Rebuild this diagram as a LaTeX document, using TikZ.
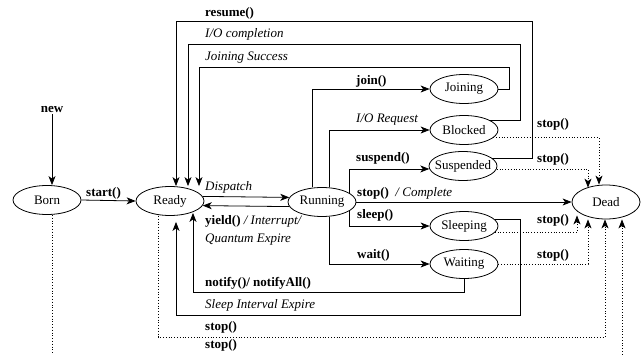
\documentclass[tikz,border=0pt]{standalone}
\usepackage{fontspec}
\setmainfont{Liberation Serif}
\usetikzlibrary{arrows.meta,shapes.geometric}

\begin{document}
\begin{tikzpicture}[x=1pt,y=-1pt,
		state/.style={draw,ellipse,line width=0.8pt,minimum width=68pt,minimum height=29pt,inner sep=0pt,font=\fontsize{13}{15}\selectfont},
		trans/.style={line width=0.8pt,-{Stealth[length=9pt,width=7pt,inset=2.5pt]}},
		stopline/.style={trans,dash pattern=on 0.8pt off 2pt},
		lbl/.style={anchor=base west,inner sep=0pt,font=\fontsize{13}{15}\selectfont}]
			\useasboundingbox (0,0) rectangle (642,354);
			\clip (0,0) rectangle (642,354);
			\node[state] (born) at (47,200) {Born};
			\node[state] (ready) at (170,201) {Ready};
			\node[state] (running) at (322,202) {Running};
			\node[state] (joining) at (464,89) {Joining};
			\node[state] (blocked) at (464,130) {Blocked};
			\node[state] (suspended) at (463,166) {\makebox[44pt]{Suspended}};
			\node[state] (sleeping) at (464,226) {Sleeping};
			\node[state] (waiting) at (464,264) {Waiting};
			\node[state,minimum height=34pt] (dead) at (606,202) {Dead};
			\node[lbl,anchor=base,inner sep=2pt] (new) at (52,112) {\textbf{new}};
			\draw[trans](new.south)--([xshift=5pt]born.north);
			\draw[trans](born.east)--(ready.west);
			\draw[trans](ready.8)--(running.172);
			\draw[trans](running.188)--(ready.352);
			\draw[trans](suspended.15)-|(532,21)-|([xshift=6pt]ready.north);
			\draw[trans](blocked.20)-|(520,44)-|([xshift=18pt]ready.north);
			\draw[trans](joining.east)-|(509,67)-|([xshift=29pt]ready.north);
			\draw[trans]([xshift=-10pt]running.north)|-(joining.west);
			\draw[trans]([xshift=7pt]running.north)|-(blocked.west);
			\draw[trans](running.18)|-(suspended.185);
			\draw[trans](running.east)--(dead.west);
			\draw[trans](running.-18)|-(sleeping.west);
			\draw[trans]([xshift=7pt]running.south)|-(waiting.west);
			\draw[trans](waiting.south)--++(0,13)-|([xshift=23pt,yshift=3pt]ready.south);
			\draw[trans](sleeping.12)-|(520,315)-|([xshift=6pt,yshift=-6pt]ready.south);
			\draw[stopline](blocked.-15)-|([xshift=-7pt]dead.north);
			\draw[stopline](suspended.-5)-|([xshift=-18pt,yshift=-3pt]dead.north);
			\draw[stopline](sleeping.-12)-|([xshift=-29pt,yshift=4pt]dead.south);
			\draw[stopline](waiting.east)-|([xshift=-18pt]dead.south);
			\draw[stopline]([xshift=-12pt]ready.south)--++(0,121)-|([xshift=-1pt]dead.south);
			\draw[stopline]([xshift=5pt]born.south)--++(0,146)-|([xshift=16pt]dead.south);
			\node[lbl] (lstart) at (86,196) {\textbf{start()}};
			\node[lbl] (ldispatch) at (205,190) {\textit{Dispatch}};
			\node[lbl] (lyield) at (205,224) {\textbf{yield()} \textit{/ Interrupt/}};
			\node[lbl] (lquantum) at (205,242) {\textit{Quantum Expire}};
			\node[lbl] (lresume) at (205,16) {\textbf{resume()}};
			\node[lbl] (liocomp) at (205,37) {\textit{I/O completion}};
			\node[lbl] (ljoinok) at (205,60) {\textit{Joining Success}};
			\node[lbl] (ljoin) at (356,84) {\textbf{join()}};
			\node[lbl] (lioreq) at (356,122) {\textit{I/O Request}};
			\node[lbl] (lsuspend) at (356,161) {\textbf{suspend()}};
			\node[lbl] (lcomplete) at (357,196) {\textbf{stop()}\ \ \textit{/ Complete}};
			\node[lbl] (lsleep) at (357,218) {\textbf{sleep()}};
			\node[lbl] (lwait) at (357,258) {\textbf{wait()}};
			\node[lbl] (lnotify) at (205,286) {\textbf{notify()/ notifyAll()}};
			\node[lbl] (lsleepexp) at (205,308) {\textit{Sleep Interval Expire}};
			\node[lbl] (lstopready) at (205,330) {\textbf{stop()}};
			\node[lbl] (lstopborn) at (205,348) {\textbf{stop()}};
			\node[lbl] (lstopblock) at (537,127) {\textbf{stop()}};
			\node[lbl] (lstopsusp) at (537,162) {\textbf{stop()}};
			\node[lbl] (lstopsleep) at (537,223) {\textbf{stop()}};
			\node[lbl] (lstopwait) at (537,258) {\textbf{stop()}};
		\end{tikzpicture}
\end{document}
